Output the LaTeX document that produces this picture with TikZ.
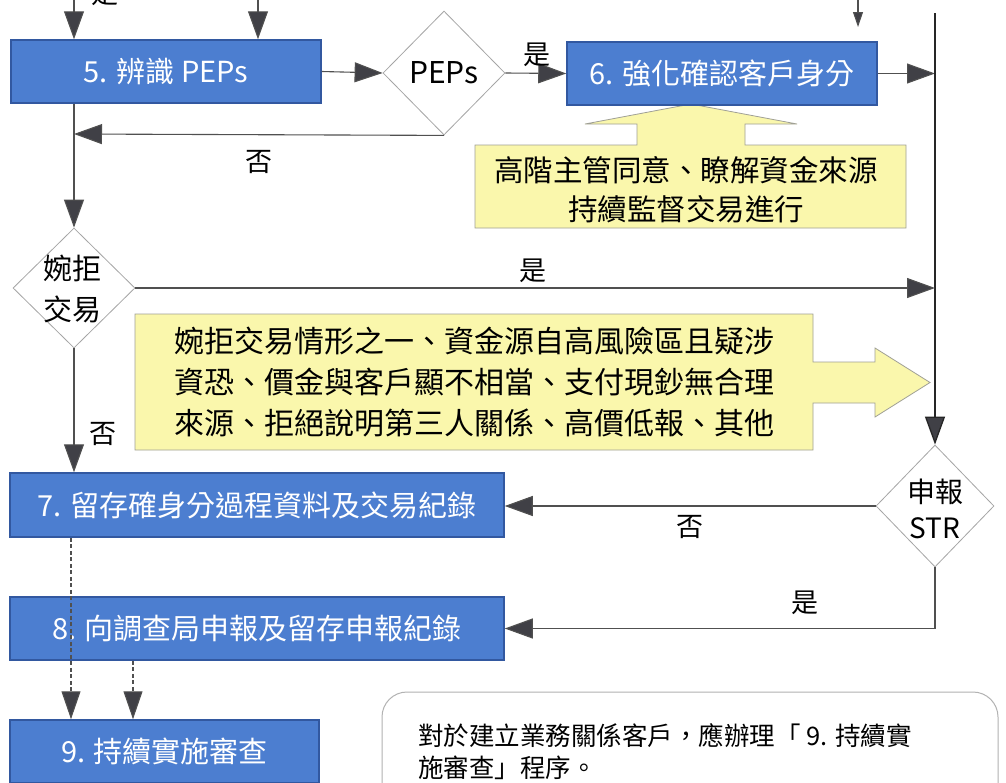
\documentclass[tikz,border=0pt]{standalone}
\usepackage{fontspec}
\setmainfont{Noto Sans CJK TC}
\usetikzlibrary{arrows.meta,shapes.geometric}
\definecolor{boxblue}{RGB}{76,126,208}
\definecolor{boxedge}{RGB}{50,88,160}
\definecolor{lineg}{RGB}{80,80,80}
\definecolor{tipg}{RGB}{64,64,70}
\definecolor{calloutfill}{RGB}{250,247,172}
\definecolor{calloutedge}{RGB}{160,160,150}
\definecolor{diaedge}{RGB}{165,165,165}
\tikzset{
  stepbox/.style={rectangle, fill=boxblue, draw=boxedge, line width=1.5pt, text=white,
    inner sep=0pt, font=\fontsize{29}{34}\selectfont},
  decision/.style={diamond, draw=diaedge, line width=0.8pt, fill=white, inner sep=0pt,
    align=center, font=\fontsize{28}{36}\selectfont},
  flow/.style={draw=lineg, line width=1.1pt, -{Triangle[length=28pt,width=20pt,fill=tipg]}},
  plainflow/.style={draw=lineg, line width=1.1pt},
  dflow/.style={draw=lineg, line width=1.1pt, dash pattern=on 4pt off 2.5pt,
    -{Triangle[length=28pt,width=19pt,fill=tipg]}},
  lbl/.style={font=\fontsize{27}{30}\selectfont, inner sep=0pt},
  callout/.style={fill=calloutfill, draw=calloutedge, line width=0.8pt},
}
\begin{document}
\begin{tikzpicture}[x=1pt,y=-1pt]
\useasboundingbox (0,0) rectangle (1006,782);
\fill[white] (0,0) rectangle (1006,782);

% callouts (shapes)
\path[callout] (475,145) -- (637,145) -- (637,124) -- (585,124) -- (691,104) -- (797,124)
  -- (745,124) -- (745,145) -- (906,145) -- (906,228) -- (475,228) -- cycle;
\node[align=center, font=\fontsize{29.5}{39.5}\selectfont, inner sep=0pt] (c1) at (686,189.5)
  {高階主管同意、瞭解資金來源\\持續監督交易進行};
\path[callout] (135,314) -- (813,314) -- (813,362) -- (875,362) -- (875,348) -- (930,382.5)
  -- (875,417) -- (875,403) -- (813,403) -- (813,450) -- (135,450) -- cycle;
\node[align=left, font=\fontsize{30}{41}\selectfont, inner sep=0pt] (c2) at (474,382)
  {婉拒交易情形之一、資金源自高風險區且疑涉\\資恐、價金與客戶顯不相當、支付現鈔無合理\\來源、拒絕說明第三人關係、高價低報、其他};

% step boxes
\node[stepbox, minimum width=310pt, minimum height=63pt] (b5) at (166,71.5) {5. 辨識 PEPs};
\node[stepbox, minimum width=310pt, minimum height=63pt] (b6) at (722,73.5) {6. 強化確認客戶身分};
\node[stepbox, minimum width=494pt, minimum height=64pt] (b7) at (257,505) {7. 留存確身分過程資料及交易紀錄};
\node[stepbox, minimum width=494pt, minimum height=63pt] (b8) at (257,628.5) {8. 向調查局申報及留存申報紀錄};
\node[stepbox, minimum width=309pt, minimum height=63pt] (b9) at (164.5,751.5) {9. 持續實施審查};

% decisions
\node[decision, minimum width=122pt, minimum height=124pt, font=\fontsize{30}{36}\selectfont] (pep) at (444,73) {PEPs};
\node[decision, minimum width=122pt, minimum height=120pt, font=\fontsize{29}{41}\selectfont] (rej) at (74,288) {};
\node[font=\fontsize{29}{41}\selectfont, align=center, inner sep=0pt] (rejt) at (72,288.5) {婉拒\\交易};
\node[decision, minimum width=118pt, minimum height=122pt] (str) at (935,506) {};
\node[font=\fontsize{28}{36}\selectfont, align=center, inner sep=0pt] (strt) at (935,509) {申報\\STR};

% coordinates
\coordinate (t1) at (74,-10);
\coordinate (t2) at (258,-10);
\coordinate (t3) at (858,-10);
\coordinate (t3e) at (858,27);
\coordinate (vtop) at (935,13);
\coordinate (v6) at (935,73.5);
\coordinate (vrej) at (935,288);
\coordinate (nocorner) at (74,134);
\coordinate (strcorner) at (935,628.5);

% top arrows
\draw[flow] (t1) -- (t1 |- b5.north);
\draw[flow] (t2) -- (t2 |- b5.north);
\draw[draw=lineg, line width=1.1pt, -{Triangle[length=15pt,width=10pt,fill=tipg]}] (t3) -- (t3e);
\node[lbl] (topyes) at (105,-6) {是};

% flows
\draw[flow] (b5.east) -- (pep.west);
\draw[flow] (pep.east) -- (b6.west);
\node[lbl] (yes1) at (537,55) {是};
\draw[flow] (pep.south) -- (nocorner);
\node[lbl] (no1) at (259,162) {否};
\draw[flow] (b5.south -| nocorner) -- (rej.north);
\draw[flow] (b6.east) -- (v6);
\draw[draw=black!85, line width=1.3pt] (vtop) -- (v6);
\draw[flow, draw=black!85, line width=1.3pt] (v6) -- (str.north);
\draw[flow] (rej.east) -- (vrej);
\node[lbl] (yes2) at (533,271) {是};
\draw[flow] (rej.south) -- (rej.south |- b7.north);
\node[lbl] (no2) at (103,434) {否};
\draw[flow] (str.west) -- (str.west -| b7.east);
\node[lbl] (no3) at (690,527) {否};
\draw[plainflow] (str.south) -- (strcorner);
\draw[flow] (strcorner) -- (b8.east);
\node[lbl] (yes3) at (805,603) {是};

% dashed
\coordinate (d1) at (71,0);
\coordinate (d2) at (133,0);
\draw[dflow] (d1 |- b7.south) -- (d1 |- b9.north);
\draw[dflow] (d2 |- b8.south) -- (d2 |- b9.north);

% note box
\draw[draw=black!30, line width=1pt, rounded corners=25pt] (382,820) -- (382,692) -- (998,692) -- (998,820);
\node[align=left, anchor=west, font=\fontsize{25.5}{32}\selectfont, inner sep=0pt] (note) at (418,752)
  {對於建立業務關係客戶，應辦理「 9. 持續實\\施審查」程序。};
\end{tikzpicture}
\end{document}
